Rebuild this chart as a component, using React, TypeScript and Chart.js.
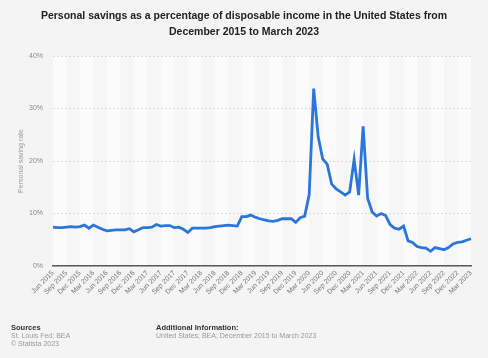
import React, { useEffect, useRef } from "react";
import { Chart, registerables } from "chart.js";

Chart.register(...registerables);

const MONTHS = ["Jan", "Feb", "Mar", "Apr", "May", "Jun", "Jul", "Aug", "Sep", "Oct", "Nov", "Dec"];
const START_YEAR = 2015;
const START_MONTH = 5; // Jun
const END_YEAR = 2023;
const END_MONTH = 2; // Mar

const categories: string[] = [];
for (let y = START_YEAR; y <= END_YEAR; y++) {
  for (let m = 0; m < 12; m++) {
    if (y === START_YEAR && m < START_MONTH) continue;
    if (y === END_YEAR && m > END_MONTH) continue;
    categories.push(`${MONTHS[m]} ${y}`);
  }
}

// Personal saving rate (%), Jun 2015 – Mar 2023
const savingRate = [
  7.4, 7.3, 7.3, 7.4, 7.5, 7.4, 7.5,
  7.8, 7.2, 7.8, 7.4, 7.0, 6.7, 6.8, 6.9, 6.9, 6.9, 7.1, 6.5,
  6.9, 7.3, 7.3, 7.4, 7.9, 7.6, 7.7, 7.7, 7.3, 7.4, 7.0, 6.4,
  7.2, 7.2, 7.2, 7.2, 7.3, 7.5, 7.6, 7.7, 7.8, 7.7, 7.6, 9.4,
  9.4, 9.7, 9.3, 9.0, 8.8, 8.6, 8.5, 8.7, 9.0, 9.0, 9.0, 8.3,
  9.2, 9.5, 13.6, 33.8, 24.6, 20.4, 19.4, 15.6, 14.7, 14.1, 13.5, 14.1,
  20.3, 13.5, 26.6, 12.9, 10.3, 9.5, 10.0, 9.6, 7.9, 7.2, 7.0, 7.6,
  4.8, 4.5, 3.7, 3.5, 3.4, 2.8, 3.5, 3.3, 3.1, 3.5, 4.2, 4.5,
  4.6, 4.9, 5.2,
];

const yTicks = [0, 10, 20, 30, 40];
const LABEL_STEP = 3;

const FONT = "'Liberation Sans', Arial, Helvetica, sans-serif";

const stripePlugin = {
  id: "stripes",
  beforeDraw(chart: any) {
    const { ctx, chartArea } = chart;
    const xs = chart.scales.x;
    if (!chartArea || !xs) return;
    ctx.save();
    ctx.fillStyle = "#f6f6f6";
    ctx.fillRect(chartArea.left, chartArea.top, chartArea.right - chartArea.left, chartArea.bottom - chartArea.top);
    let band = 0;
    for (let i = 0; i < categories.length - 1; i += LABEL_STEP) {
      const x0 = xs.getPixelForValue(i);
      const x1 = xs.getPixelForValue(Math.min(i + LABEL_STEP, categories.length - 1));
      if (band % 2 === 0) {
        ctx.fillStyle = "#fbfbfb";
        ctx.fillRect(x0, chartArea.top, x1 - x0, chartArea.bottom - chartArea.top);
      }
      band++;
    }
    ctx.restore();
  },
};

function SavingsChart() {
  const ref = useRef<HTMLCanvasElement | null>(null);
  useEffect(() => {
    if (!ref.current) return;
    const chart = new Chart(ref.current, {
      type: "line",
      data: {
        labels: categories,
        datasets: [
          {
            data: savingRate,
            borderColor: "#2a76db",
            borderWidth: 2.8,
            pointRadius: 0,
            tension: 0,
            fill: false,
          },
        ],
      },
      options: {
        animation: false,
        responsive: false,
        maintainAspectRatio: false,
        devicePixelRatio: 1,
        layout: { padding: { left: 0, right: 17, top: 56, bottom: 0 } },
        plugins: {
          legend: { display: false },
          tooltip: { enabled: false },
          title: { display: false },
        },
        scales: {
          x: {
            type: "category",
            offset: false,
            grid: { display: false, drawTicks: false },
            border: { display: true, color: "#5a5a5a", width: 1.5 },
            ticks: {
              autoSkip: false,
              maxRotation: 45,
              minRotation: 45,
              padding: 3,
              color: "#777",
              font: { size: 7, family: FONT },
              callback: (_v: any, i: number) => (i % LABEL_STEP === 0 ? categories[i] : null),
            },
            afterFit: (s: any) => {
              s.height = 92;
            },
          },
          y: {
            min: yTicks[0],
            max: yTicks[yTicks.length - 1],
            afterBuildTicks: (s: any) => {
              s.ticks = yTicks.map((v) => ({ value: v }));
            },
            ticks: {
              padding: 10,
              color: "#888",
              font: { size: 7, family: FONT },
              callback: (v: any) => `${v}%`,
            },
            grid: { color: "#dcdcdc", drawTicks: false, lineWidth: 1 },
            border: { display: false, dash: [2, 2] },
            title: {
              display: true,
              text: "Personal saving rate",
              color: "#999",
              font: { size: 7, family: FONT },
              padding: { top: 17, bottom: 0 },
            },
            afterFit: (s: any) => {
              s.width = 53;
            },
          },
        },
      },
      plugins: [stripePlugin],
    });
    return () => chart.destroy();
  }, []);
  return <canvas ref={ref} width={488} height={358} style={{ position: "absolute", left: 0, top: 0, width: 488, height: 358 }} />;
}

export default function App() {
  const small: React.CSSProperties = { fontSize: 7, lineHeight: "7.7px", color: "#999", whiteSpace: "nowrap" };
  const head: React.CSSProperties = { fontSize: 7.5, lineHeight: "8px", color: "#333", fontWeight: 700, whiteSpace: "nowrap" };
  return (
    <div
      style={{
        position: "fixed",
        left: 0,
        top: 0,
        width: 488,
        height: 358,
        background: "#f4f4f4",
        overflow: "hidden",
        fontFamily: FONT,
      }}
    >
      <SavingsChart />
      <div
        style={{
          position: "absolute",
          left: 0,
          top: 7,
          width: 488,
          textAlign: "center",
          fontWeight: 700,
          fontSize: 10.5,
          lineHeight: "16px",
          color: "#222",
        }}
      >
        Personal savings as a percentage of disposable income in the United States from
        <br />
        December 2015 to March 2023
      </div>
      <div style={{ position: "absolute", left: 11, top: 324 }}>
        <div style={head}>Sources</div>
        <div style={small}>St. Louis Fed; BEA</div>
        <div style={small}>© Statista 2023</div>
      </div>
      <div style={{ position: "absolute", left: 156, top: 324 }}>
        <div style={head}>Additional Information:</div>
        <div style={small}>United States; BEA; December 2015 to March 2023</div>
      </div>
    </div>
  );
}
